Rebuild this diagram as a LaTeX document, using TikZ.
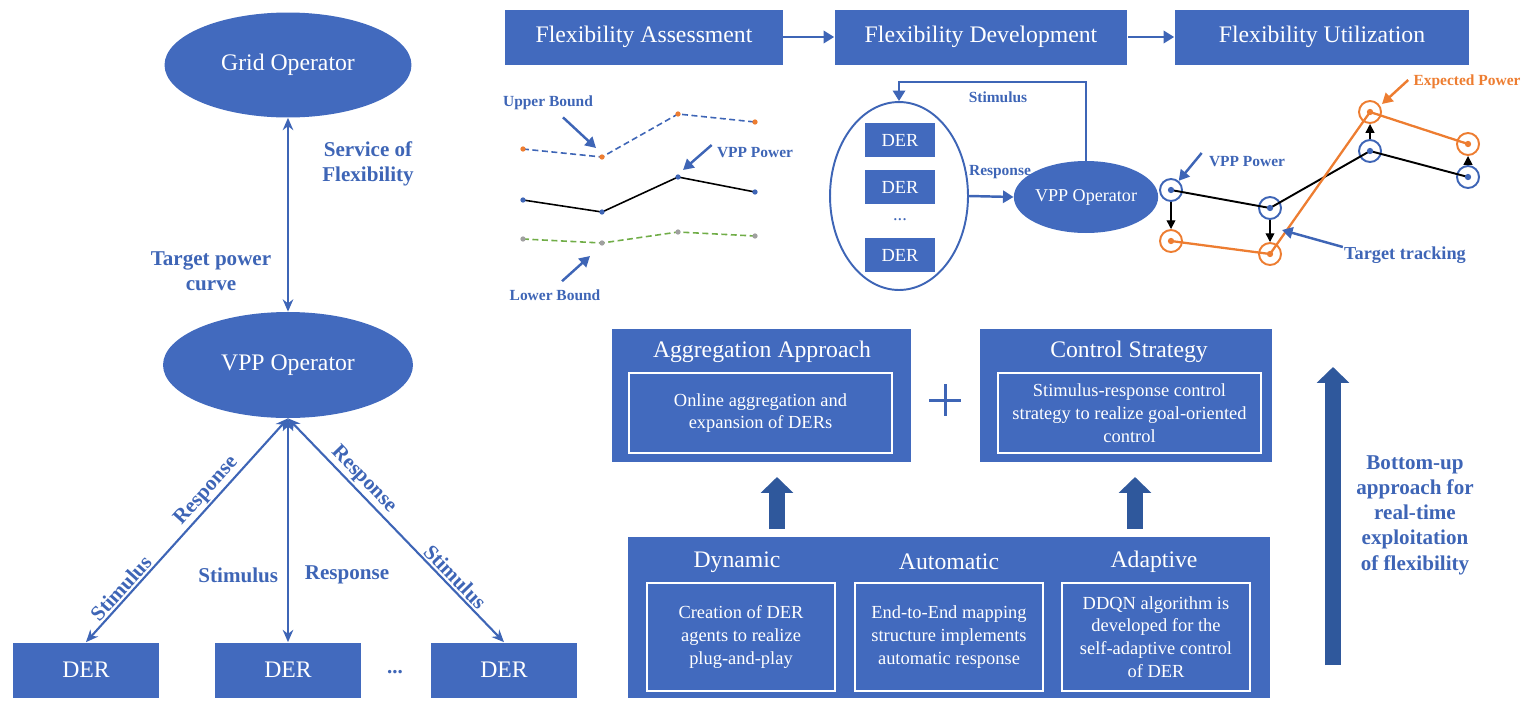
\documentclass[tikz,border=0pt]{standalone}
\usepackage{fontspec}
\setmainfont{Liberation Serif}
\usepackage{tikz}
\usetikzlibrary{arrows.meta,shapes.geometric}

\definecolor{boxblue}{RGB}{66,106,190}
\definecolor{txtblue}{RGB}{62,101,182}
\definecolor{deepblue}{RGB}{47,88,156}
\definecolor{orng}{RGB}{237,125,49}
\definecolor{grn}{RGB}{112,173,71}
\definecolor{gry}{RGB}{160,160,160}

\tikzset{
	oval/.style={ellipse, fill=boxblue, text=white, inner sep=0pt, font=\fontsize{13.5}{16}\selectfont},
	blk/.style={rectangle, fill=boxblue, text=white, inner sep=0pt, align=center, font=\fontsize{13.5}{16}\selectfont},
	ttl/.style={text=white, inner sep=0pt, font=\fontsize{13.5}{16}\selectfont},
	inbox/.style={rectangle, draw=white, line width=1.1pt, text=white, align=center, inner sep=0pt, font=\fontsize{10.5}{13}\selectfont},
	lbl/.style={text=txtblue, align=center, inner sep=1pt, font=\bfseries\fontsize{12}{14.4}\selectfont},
	small/.style={text=txtblue, inner sep=0pt, font=\bfseries\fontsize{8.8}{10}\selectfont},
	link/.style={draw=txtblue, line width=1.2pt, {Stealth[length=7pt,width=6pt]}-{Stealth[length=7pt,width=6pt]}},
	flow/.style={draw=txtblue, line width=1.4pt, -{Triangle[length=6pt,width=7pt]}},
	callout/.style={draw=txtblue, line width=1.4pt, -{Triangle[length=6pt,width=6.5pt]}},
	track/.style={draw=black, line width=0.8pt, -{Triangle[length=5pt,width=5pt]}},
	bigup/.style={draw=deepblue, line width=9.4pt, -{Triangle[length=9pt,width=18pt]}},
	ring/.style={circle, draw=#1, line width=1.1pt, minimum size=0.44cm, inner sep=0pt}
}

\begin{document}
\begin{tikzpicture}[x=0.02cm, y=-0.02cm]
	\useasboundingbox (0,0) rectangle (1527,704);

	\node[oval, minimum width=4.94cm, minimum height=2.1cm] (grid) at (288,65) {Grid Operator};
	\node[oval, minimum width=5cm, minimum height=2.12cm] (vpp) at (288,365) {VPP Operator};
	\node[blk, minimum width=2.92cm, minimum height=1.1cm] (der1) at (86,670) {DER};
	\node[blk, minimum width=2.92cm, minimum height=1.1cm] (der2) at (288,670) {DER};
	\node[blk, minimum width=2.92cm, minimum height=1.1cm] (der3) at (504,670) {DER};
	\node[lbl] (derdots) at (395,672) {...};
	\draw[link] (grid) -- (vpp);
	\node[lbl] (svc) at (368,164) {Service of\\Flexibility};
	\node[lbl] (tpc) at (211,271) {Target power\\curve};
	\draw[link] (vpp.south) -- (der1.north) node[lbl, pos=0.36, sloped, above] {Response} node[lbl, pos=0.79, sloped, above] {Stimulus};
	\draw[link] (vpp.south) -- (der2.north) node[lbl, pos=0.7, left=4pt] {Stimulus} node[lbl, pos=0.7, right=8pt] {Response};
	\draw[link] (vpp.south) -- (der3.north) node[lbl, pos=0.31, sloped, above] {Response} node[lbl, pos=0.74, sloped, above] {Stimulus};

	\node[blk, minimum width=5.56cm, minimum height=1.1cm] (fa) at (644,37) {Flexibility Assessment};
	\node[blk, minimum width=5.86cm, minimum height=1.1cm] (fd) at (981,37) {Flexibility Development};
	\node[blk, minimum width=5.9cm, minimum height=1.1cm] (fu) at (1322,37) {Flexibility Utilization};
	\draw[flow] (fa) -- (fd);
	\draw[flow] (fd) -- (fu);

	\foreach \x/\u/\v/\l [count=\i] in {523/149/200/239, 602/157/212/243, 678/114/177/232, 755/122/192/236} {
		\coordinate (u\i) at (\x,\u);
		\coordinate (v\i) at (\x,\v);
		\coordinate (l\i) at (\x,\l);
	}
	\draw[txtblue, line width=0.9pt, dash pattern=on 3.4pt off 2pt] (u1) -- (u2) -- (u3) -- (u4);
	\draw[black, line width=0.9pt] (v1) -- (v2) -- (v3) -- (v4);
	\draw[grn, line width=0.9pt, dash pattern=on 3.4pt off 2pt] (l1) -- (l2) -- (l3) -- (l4);
	\foreach \i in {1,...,4} {
		\fill[orng] (u\i) circle (1.5pt);
		\fill[txtblue] (v\i) circle (1.5pt);
		\fill[gry] (l\i) circle (1.5pt);
	}
	\node[small] (ub) at (548,103) {Upper Bound};
	\node[small] (vpw) at (755,153) {VPP Power};
	\node[small] (lb) at (555,295) {Lower Bound};
	\coordinate (ubtip) at (596,148);
	\coordinate (vpwtip) at (683,170);
	\coordinate (lbtip) at (590,256);
	\draw[callout] ([shift={(15,7)}]ub.south) -- (ubtip);
	\draw[callout] ([shift={(-5,-8)}]vpw.west) -- (vpwtip);
	\draw[callout] ([shift={(7,-8)}]lb.north) -- (lbtip);

	\node[ellipse, draw=txtblue, line width=1.1pt, minimum width=2.76cm, minimum height=3.76cm] (pool) at (899,196) {};
	\node[blk, minimum width=1.4cm, minimum height=0.68cm, font=\fontsize{10.5}{12}\selectfont] (pder1) at (900,140) {DER};
	\node[blk, minimum width=1.4cm, minimum height=0.68cm, font=\fontsize{10.5}{12}\selectfont] (pder2) at (900,187) {DER};
	\node[text=txtblue, font=\fontsize{10.5}{12}\selectfont] (pdots) at (900,220) {...};
	\node[blk, minimum width=1.4cm, minimum height=0.68cm, font=\fontsize{10.5}{12}\selectfont] (pder3) at (900,255) {DER};
	\node[oval, minimum width=2.56cm, minimum height=1.44cm, font=\fontsize{10.3}{12}\selectfont] (vppop) at (1086,197) {VPP Operator};
	\coordinate (loop) at (899,82);
	\draw[flow] (vppop.north) |- (loop) -- (pool.north);
	\draw[flow] (pool.east) -- (vppop.west);
	\node[small] (stim) at (998,97) {Stimulus};
	\node[small] (resp) at (1000,172) {Response};

	\foreach \x/\b/\o [count=\i] in {1171/190/241, 1270/208/254, 1370/151/112, 1468/177/144} {
		\node[ring=txtblue] (b\i) at (\x,\b) {};
		\node[ring=orng] (o\i) at (\x,\o) {};
	}
	\draw[black, line width=1.1pt] (b1.center) -- (b2.center) -- (b3.center) -- (b4.center);
	\draw[orng, line width=1.3pt] (o1.center) -- (o2.center) -- (o3.center) -- (o4.center);
	\foreach \i in {1,...,4} {
		\fill[txtblue] (b\i) circle (1.8pt);
		\fill[orng] (o\i) circle (1.8pt);
		\draw[track] (b\i) -- (o\i);
	}
	\node[small] (vpl) at (1247,162) {VPP Power};
	\node[small, text=orng] (expl) at (1467,82) {Expected Power};
	\node[small, font=\bfseries\fontsize{10.4}{12}\selectfont] (ttr) at (1405,255) {Target tracking};
	\coordinate (ttrtip) at (1282,230);
	\coordinate (expltip) at (1382,104);
	\draw[callout] ([shift={(-7,-9)}]vpl.west) -- (b1.50);
	\draw[callout, draw=orng] ([shift={(-5,-2)}]expl.west) -- (expltip);
	\draw[callout] ([shift={(-1,-8)}]ttr.west) -- (ttrtip);

	\node[blk, minimum width=5.98cm, minimum height=2.66cm] (agg) at (761.5,395.5) {};
	\node[ttl] (aggt) at (762,352) {Aggregation Approach};
	\node[inbox, minimum width=5.26cm, minimum height=1.6cm] (aggi) at (760.5,413) {Online aggregation and\\expansion of DERs};
	\node[blk, minimum width=5.84cm, minimum height=2.66cm] (ctrl) at (1126,395.5) {};
	\node[ttl] (ctrlt) at (1129,352) {Control Strategy};
	\node[inbox, minimum width=5.26cm, minimum height=1.6cm] (ctrli) at (1129.5,413) {Stimulus-response control\\strategy to realize goal-oriented\\control};
	\draw[txtblue, line width=1.7pt] (929,400) -- (961,400) (945,384) -- (945,416);

	\node[blk, minimum width=12.84cm, minimum height=3.22cm] (feat) at (949,617.5) {};
	\node[ttl] (dynt) at (737,562) {Dynamic};
	\node[ttl] (autt) at (949,562) {Automatic};
	\node[ttl] (adpt) at (1154,562) {Adaptive};
	\node[inbox, minimum width=3.76cm, minimum height=2.16cm] (dyn) at (741,637) {Creation of DER\\agents to realize\\plug-and-play};
	\node[inbox, minimum width=3.76cm, minimum height=2.16cm] (aut) at (949,637) {End-to-End mapping\\structure implements\\automatic response};
	\node[inbox, minimum width=3.76cm, minimum height=2.16cm] (adp) at (1156,637) {DDQN algorithm is\\developed for the\\self-adaptive control\\of DER};

	\coordinate (up1s) at (777,529);
	\coordinate (up1e) at (777,477);
	\coordinate (up2s) at (1135,529);
	\coordinate (up2e) at (1135,477);
	\coordinate (up3s) at (1333,665);
	\coordinate (up3e) at (1333,367);
	\draw[bigup] (up1s) -- (up1e);
	\draw[bigup] (up2s) -- (up2e);
	\draw[bigup] (up3s) -- (up3e);
	\node[lbl] (bup) at (1415,515) {Bottom-up\\approach for\\real-time\\exploitation\\of flexibility};
\end{tikzpicture}
\end{document}
